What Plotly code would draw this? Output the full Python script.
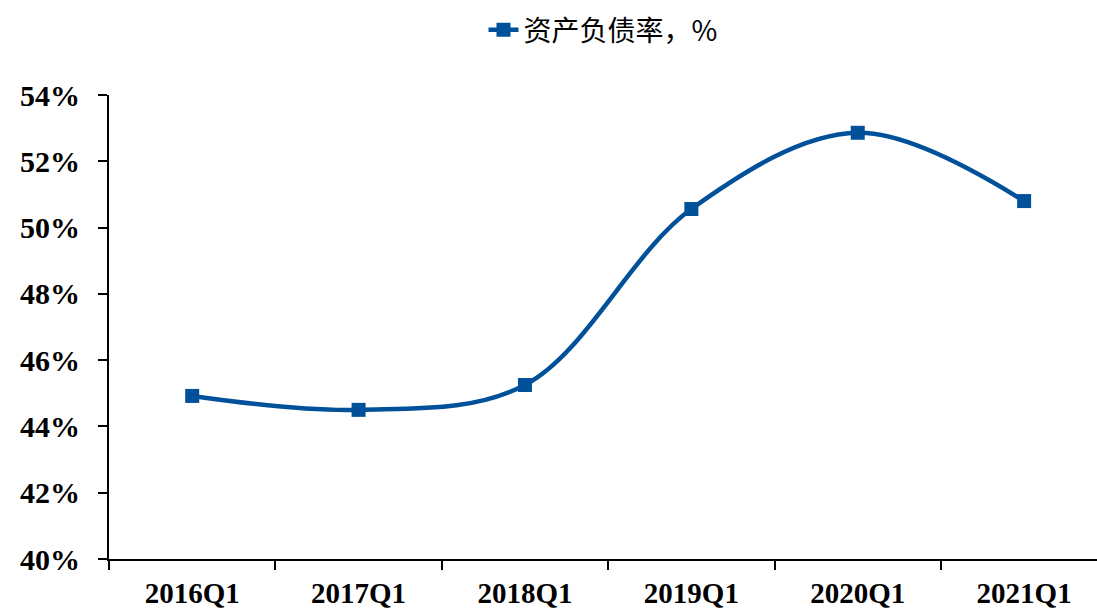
import plotly.graph_objects as go

# Quarterly debt-to-asset ratio (%)
quarters = ["2016Q1", "2017Q1", "2018Q1", "2019Q1", "2020Q1", "2021Q1"]
debt_ratio = [44.92, 44.50, 45.25, 50.56, 52.86, 50.80]
y_ticks = [40, 42, 44, 46, 48, 50, 52, 54]
y_tick_text = [f"{v}%" for v in y_ticks]

BLUE = "#00519A"
SERIF = "Liberation Serif, Times New Roman, serif"

fig = go.Figure()
fig.add_trace(go.Scatter(
    x=quarters,
    y=debt_ratio,
    mode="lines+markers",
    name="资产负债率，%",
    line=dict(color=BLUE, width=4.5, shape="spline", smoothing=1.0),
    marker=dict(symbol="square", size=14, color=BLUE),
))

fig.update_layout(
    width=1097,
    height=613,
    margin=dict(l=109, r=0, t=95, b=54, autoexpand=False),
    paper_bgcolor="white",
    plot_bgcolor="white",
    showlegend=True,
    legend=dict(
        orientation="h",
        xref="paper", x=0.5, xanchor="center",
        yref="container", y=1 - 30 / 613, yanchor="middle",
        font=dict(family="Noto Sans CJK SC, sans-serif", size=28, color="black"),
        bgcolor="rgba(0,0,0,0)",
    ),
    xaxis=dict(
        type="category",
        range=[-0.5, 5.438],
        automargin=False,
        showline=True, linecolor="black", linewidth=2,
        ticks="outside", tickson="boundaries", ticklen=9, tickwidth=2, tickcolor="black",
        showgrid=False, zeroline=False,
        tickfont=dict(family=SERIF, size=29, color="black", weight="bold"),
        ticklabelstandoff=7,
    ),
    yaxis=dict(
        range=[40, 54],
        automargin=False,
        tickmode="array",
        tickvals=y_ticks,
        ticktext=y_tick_text,
        showline=True, linecolor="black", linewidth=2,
        ticks="outside", ticklen=9, tickwidth=2, tickcolor="black",
        showgrid=False, zeroline=False,
        tickfont=dict(family=SERIF, size=30, color="black", weight="bold"),
        ticklabelstandoff=12,
    ),
)

fig.write_html("out.html")
